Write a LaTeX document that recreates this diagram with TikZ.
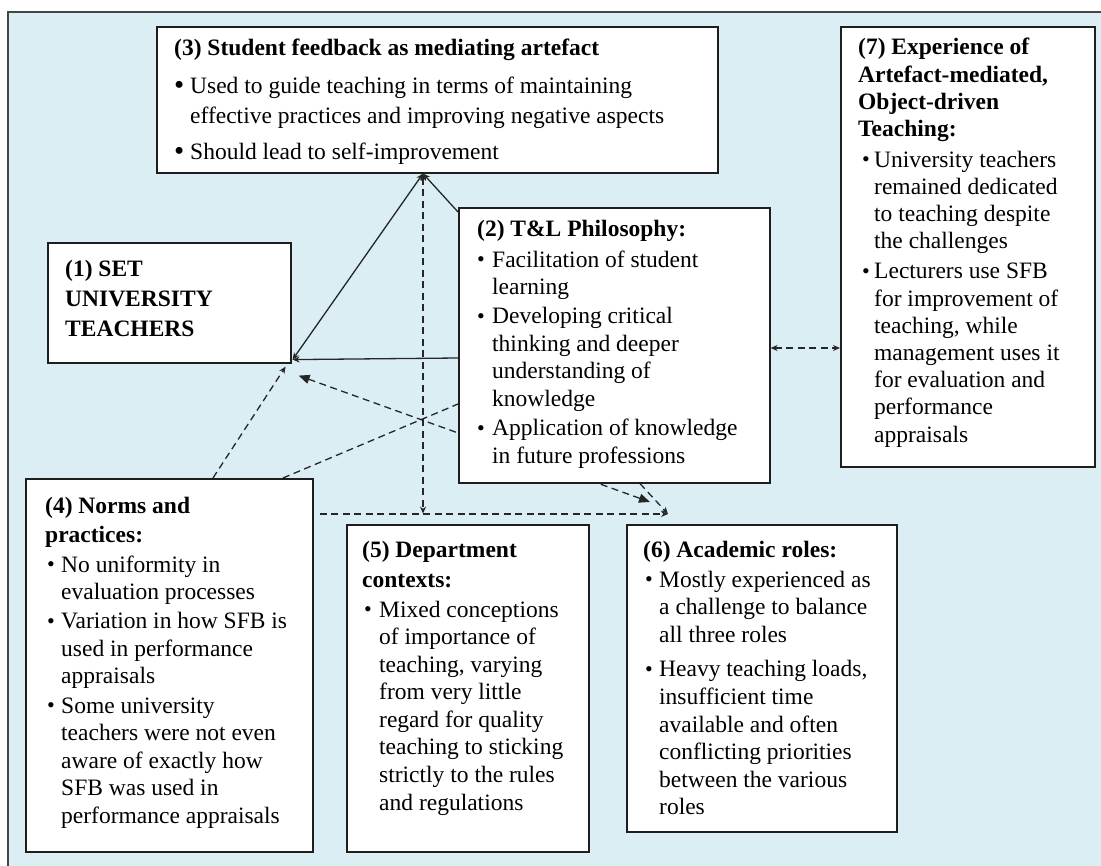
\documentclass[tikz,border=0pt]{standalone}
\usepackage{fontspec}
\setmainfont{Liberation Serif}
\usetikzlibrary{arrows.meta,calc}
\definecolor{panelblue}{RGB}{219,238,243}
\definecolor{frameline}{RGB}{70,70,70}
\definecolor{boxline}{RGB}{30,30,30}
\pgfdeclarelayer{panel}
\pgfdeclarelayer{links}
\pgfsetlayers{panel,links,main}
% body text size and bullet helpers
\newcommand\bodyfont[1][27.6]{\fontsize{23.5}{#1}\selectfont}
\newcommand\bl[1][15pt]{\makebox[#1][l]{\raisebox{0.6pt}{\fontsize{22}{22}\selectfont\textbullet}}}
\newcommand\blbig[1][16pt]{\makebox[#1][l]{\raisebox{-0.6pt}{\fontsize{29}{29}\selectfont\textbullet}}}
\newcommand\cont[1][15pt]{\hspace*{#1}}
\begin{document}
\begin{tikzpicture}[x=1pt,y=-1pt,
  card/.style={draw=boxline,line width=1.6pt,fill=white,anchor=north west,inner sep=0pt},
  txt/.style={anchor=base west,inner sep=0pt,text=black},
  link/.style={draw=black!85,line width=1.3pt},
  dlink/.style={link,dash pattern=on 7pt off 4.5pt},
  tip/.style={-{Stealth[length=7pt,width=6pt]}},
  tips/.style={{Stealth[length=7pt,width=6pt]}-{Stealth[length=7pt,width=6pt]}},
  bigtips/.style={{Triangle[length=11pt,width=9pt]}-{Triangle[length=11pt,width=9pt]}}]
\useasboundingbox (0,0) rectangle (1101,866);

% panel background with its top and left frame lines
\begin{pgfonlayer}{panel}
\fill[panelblue] (8,12) rectangle (1101,866);
\draw[frameline,line width=2pt] (8,866) -- (8,12) -- (1101,12);
\end{pgfonlayer}

% boxes
\node[card,minimum width=561pt,minimum height=146pt] (b3) at (156,26) {};
\node[card,minimum width=243pt,minimum height=120pt] (b1) at (47,242) {};
\node[card,minimum width=311pt,minimum height=275pt] (b2) at (458,207) {};
\node[card,minimum width=254pt,minimum height=440pt] (b7) at (840,26) {};
\node[card,minimum width=287pt,minimum height=373pt] (b4) at (25,478) {};
\node[card,minimum width=242pt,minimum height=327pt] (b5) at (346,524) {};
\node[card,minimum width=270pt,minimum height=307pt] (b6) at (626,524) {};

% connector end points
\coordinate (apex) at ($(b3.south west)+(267,0)$);
\coordinate (join) at ($(apex)+(0,340)$);
\coordinate (roleend) at ($(b6.north west)+(42,-10)$);
\coordinate (subj) at ($(b1.south east)+(1,-4)$);

% connectors, drawn under the boxes
\begin{pgfonlayer}{links}
\draw[dlink,bigtips] ($(b1.south east)+(7,12)$) -- ($(b6.north west)+(24,-22)$);
\draw[dlink] ($(b4.north west)+(258,0)$) -- ($(b2.north west)+(0,197)$);
\draw[link,tips] (subj) -- (apex);
\draw[link,tip] ($(b2.north west)+(0,5)$) -- (apex);
\draw[link,tip] ($(b2.north west)+(0,151)$) -- (subj);
\draw[dlink,tips] (apex) -- (join);
\draw[dlink,tip] ($(b4.north east)+(6,36)$) -- (roleend);
\draw[dlink,tip] ($(b4.north west)+(188,0)$) -- ($(b1.south east)+(-6,3)$);
\draw[dlink,tip] ($(b2.south west)+(182,0)$) -- (roleend);
\draw[dlink,tips] ($(b2.north east)+(0,141)$) -- ($(b7.north west)+(0,322)$);
\end{pgfonlayer}

% texts
\node[txt] (t3) at (174,56) {\parbox[t]{540pt}{\bodyfont[30]%
\textbf{(3) Student feedback as mediating artefact}\\[8pt]
\blbig Used to guide teaching in terms of maintaining\\
\cont[16pt]effective practices and improving negative aspects\\[6pt]
\blbig Should lead to self-improvement}};

\node[txt] (t1) at (65,277) {\parbox[t]{220pt}{\bodyfont[30]\bfseries
(1) SET\\UNIVERSITY\\TEACHERS}};

\node[txt] (t2) at (477,237) {\parbox[t]{290pt}{\bodyfont
\textbf{(2) T\&L Philosophy:}\\[2.5pt]
\bl Facilitation of student\\
\cont learning\\[1.5pt]
\bl Developing critical\\
\cont thinking and deeper\\
\cont understanding of\\
\cont knowledge\\[1.5pt]
\bl Application of knowledge\\
\cont in future professions}};

\node[txt] (t7) at (858,55) {\parbox[t]{235pt}{\bodyfont[27.2]
\textbf{(7) Experience of}\\
\textbf{Artefact-mediated,}\\
\textbf{Object-driven}\\
\textbf{Teaching:}\\[3.5pt]
\hspace*{4pt}\bl[12pt]University teachers\\
\cont[16pt]remained dedicated\\
\cont[16pt]to teaching despite\\
\cont[16pt]the challenges\\[2.8pt]
\hspace*{4pt}\bl[12pt]Lecturers use SFB\\
\cont[16pt]for improvement of\\
\cont[16pt]teaching, while\\
\cont[16pt]management uses it\\
\cont[16pt]for evaluation and\\
\cont[16pt]performance\\
\cont[16pt]appraisals}};

\node[txt] (t4) at (45,513) {\parbox[t]{265pt}{\bodyfont
\textbf{(4) Norms and}\\[1.5pt]
\textbf{practices:}\\[2.4pt]
\hspace*{2pt}\bl[14pt]No uniformity in\\
\cont[16pt]evaluation processes\\[1.5pt]
\hspace*{2pt}\bl[14pt]Variation in how SFB is\\
\cont[16pt]used in performance\\
\cont[16pt]appraisals\\[1.5pt]
\hspace*{2pt}\bl[14pt]Some university\\
\cont[16pt]teachers were not even\\
\cont[16pt]aware of exactly how\\
\cont[16pt]SFB was used in\\
\cont[16pt]performance appraisals}};

\node[txt] (t5) at (362,557) {\parbox[t]{225pt}{\bodyfont
\textbf{(5) Department}\\[2.4pt]
\textbf{contexts:}\\[2.4pt]
\hspace*{2pt}\bl[15pt]Mixed conceptions\\
\cont[17pt]of importance of\\
\cont[17pt]teaching, varying\\
\cont[17pt]from very little\\
\cont[17pt]regard for quality\\
\cont[17pt]teaching to sticking\\
\cont[17pt]strictly to the rules\\
\cont[17pt]and regulations}};

\node[txt] (t6) at (643,558) {\parbox[t]{250pt}{\bodyfont
\textbf{(6) Academic roles:}\\[1.5pt]
\hspace*{2pt}\bl[14pt]Mostly experienced as\\
\cont[16pt]a challenge to balance\\
\cont[16pt]all three roles\\[7pt]
\hspace*{2pt}\bl[14pt]Heavy teaching loads,\\
\cont[16pt]insufficient time\\
\cont[16pt]available and often\\
\cont[16pt]conflicting priorities\\
\cont[16pt]between the various\\
\cont[16pt]roles}};
\end{tikzpicture}
\end{document}
